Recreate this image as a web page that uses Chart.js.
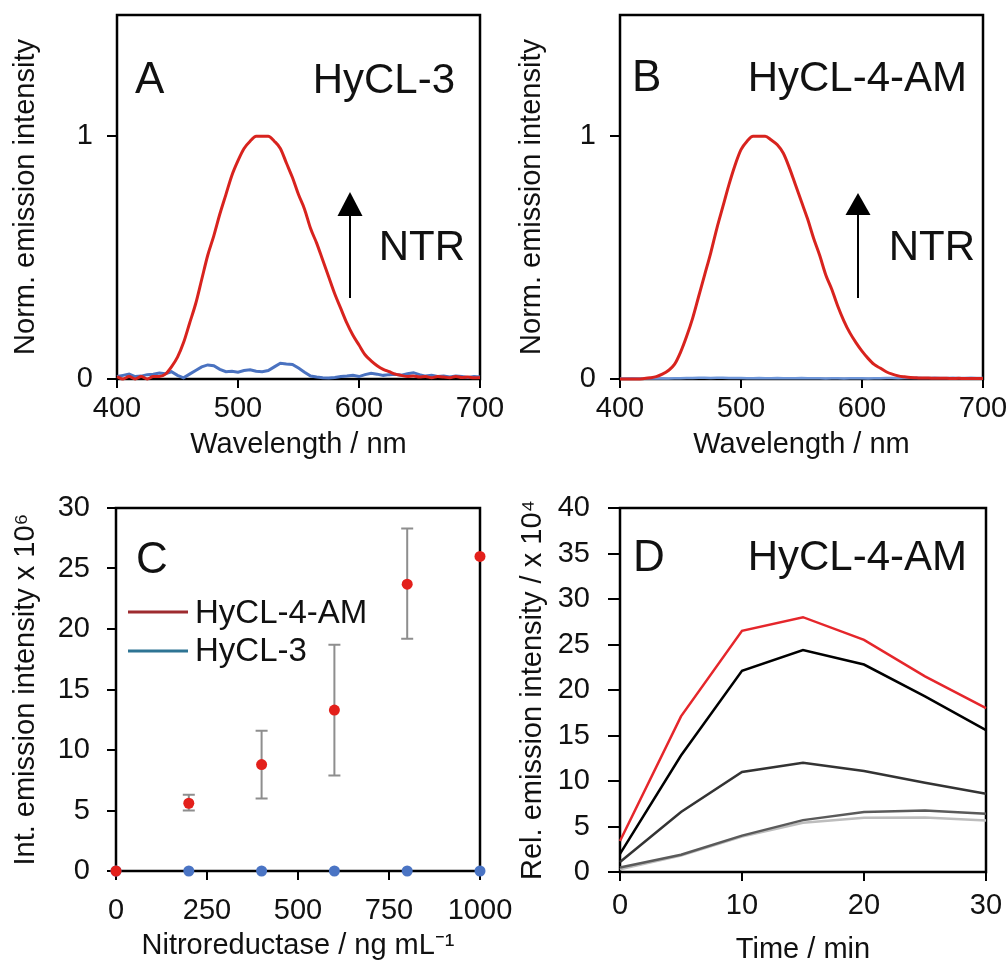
<!DOCTYPE html>
<html><head><meta charset="utf-8">
<script src="https://cdn.jsdelivr.net/npm/chart.js@4.4.1/dist/chart.umd.min.js"></script>
<style>
html,body{margin:0;padding:0;background:#fff;width:1008px;height:965px;overflow:hidden;}
canvas{position:absolute;}
</style></head><body>
<canvas id="cA" width="510" height="480" style="left:0px;top:0px"></canvas>
<canvas id="cB" width="508" height="480" style="left:500px;top:0px"></canvas>
<canvas id="cC" width="520" height="490" style="left:0px;top:480px"></canvas>
<canvas id="cD" width="508" height="490" style="left:500px;top:480px"></canvas>
<script>
// ---------- DATA ----------
const wavelengths = [400,405,410,415,420,425,430,435,440,445,450,455,460,465,470,475,480,485,490,495,
  500,505,510,515,520,525,530,535,540,545,550,555,560,565,570,575,580,585,590,595,
  600,605,610,615,620,625,630,635,640,645,650,655,660,665,670,675,680,685,690,695,700];
// Panel A: HyCL-3 (+NTR red, control blue)
const specA_NTR = [0.01,0.0,0.01,0.0,0.01,0.0,0.01,0.01,0.02,0.05,0.09,0.15,0.23,0.31,0.41,0.51,0.59,0.68,0.76,0.84,
  0.90,0.95,0.98,1.00,1.00,1.00,0.98,0.95,0.89,0.83,0.76,0.70,0.62,0.56,0.49,0.42,0.35,0.29,0.23,0.18,
  0.14,0.10,0.075,0.055,0.04,0.03,0.02,0.015,0.01,0.012,0.008,0.01,0.005,0.01,0.008,0.005,0.01,0.006,0.008,0.005,0.006];
const specA_ctrl = [0.01,0.015,0.02,0.01,0.012,0.018,0.02,0.025,0.022,0.03,0.015,0.005,0.02,0.035,0.05,0.058,0.055,0.04,0.03,0.032,
  0.028,0.035,0.038,0.032,0.03,0.035,0.05,0.065,0.062,0.06,0.045,0.028,0.012,0.008,0.005,0.004,0.006,0.01,0.012,0.015,
  0.01,0.018,0.024,0.02,0.015,0.018,0.02,0.016,0.022,0.026,0.018,0.012,0.015,0.01,0.012,0.008,0.012,0.01,0.006,0.01,0.008];
// Panel B: HyCL-4-AM
const specB_NTR = [0.0,0.0,0.0,0.0,0.002,0.005,0.01,0.02,0.035,0.06,0.11,0.175,0.25,0.34,0.43,0.52,0.62,0.71,0.80,0.88,
  0.945,0.98,1.00,1.00,1.00,0.985,0.965,0.93,0.87,0.80,0.73,0.66,0.58,0.51,0.43,0.37,0.30,0.24,0.19,0.15,
  0.115,0.085,0.06,0.045,0.03,0.02,0.013,0.009,0.006,0.005,0.004,0.004,0.003,0.003,0.003,0.002,0.003,0.002,0.002,0.002,0.002];
const specB_ctrl = [0.002,0.002,0.003,0.002,0.002,0.003,0.002,0.003,0.002,0.003,0.003,0.004,0.004,0.005,0.005,0.004,0.005,0.005,0.004,0.004,
  0.004,0.003,0.003,0.004,0.003,0.003,0.004,0.003,0.003,0.003,0.004,0.003,0.003,0.003,0.002,0.003,0.003,0.002,0.003,0.003,
  0.003,0.002,0.003,0.003,0.004,0.004,0.003,0.004,0.004,0.005,0.004,0.004,0.005,0.004,0.004,0.005,0.004,0.004,0.005,0.004,0.004];
const specXTicks = [400,500,600,700];
const specYTicks = [0,1];

// Panel C: integrated emission vs nitroreductase
const ntrConc = [0,200,400,600,800,1000];
const hycl4amInt = [0,5.6,8.8,13.3,23.7,26.0];
const hycl4amErrHigh = [null,6.3,11.6,18.7,28.3,null];
const hycl4amErrLow = [null,5.0,6.0,7.9,19.2,null];
const hycl3Int = [0,0,0,0,0,0];
const concTicks = [0,250,500,750,1000];
const intTicks = [0,5,10,15,20,25,30];

// Panel D: kinetics
const timeMin = [0,5,10,15,20,25,30];
const kinRed   = [3.4,17.1,26.5,28.0,25.5,21.5,18.0];
const kinBlack = [2.0,12.8,22.1,24.4,22.8,19.3,15.6];
const kinDark  = [1.1,6.6,11.0,12.0,11.1,9.8,8.6];
const kinGray  = [0.5,1.9,4.0,5.7,6.6,6.75,6.4];
const kinLight = [0.3,1.8,3.9,5.4,5.95,6.0,5.65];
const timeTicks = [0,10,20,30];
const relTicks = [0,5,10,15,20,25,30,35,40];

// ---------- STYLE HELPERS ----------
const FAM = "'Liberation Sans', Arial, Helvetica, sans-serif";
const FS = 29;
const TXT = '#111';

function pts(xs, ys){ return xs.map((x,i)=>({x:x, y:ys[i]})); }

function xAxis(o){
  return {
    type:'linear', position:'bottom', min:o.min, max:o.max,
    afterFit: s => { s.height = o.h; s.paddingLeft = 0; s.paddingRight = 0; s.paddingTop = 0; s.paddingBottom = 0; },
    afterBuildTicks: s => { s.ticks = o.ticks.map(v=>({value:v})); },
    grid:{display:true, drawOnChartArea:false, drawTicks:true, tickLength:o.tl, color:'#000', lineWidth:2},
    border:{display:false},
    ticks:{font:{family:FAM,size:FS}, color:TXT, padding:o.pad, maxRotation:0, autoSkip:false, callback:v=>String(v)},
    title:{display:true, text:o.title, font:{family:FAM,size:FS}, color:TXT, padding:{top:0,bottom:o.pb}}
  };
}
function yAxis(o){
  return {
    type:'linear', position:'left', min:o.min, max:o.max,
    afterFit: s => { s.width = o.w; s.paddingLeft = 0; s.paddingRight = 0; s.paddingTop = 0; s.paddingBottom = 0; },
    afterBuildTicks: s => { s.ticks = o.ticks.map(v=>({value:v})); },
    grid:{display:true, drawOnChartArea:false, drawTicks:true, tickLength:o.tl, color:'#000', lineWidth:2},
    border:{display:false},
    ticks:{font:{family:FAM,size:FS}, color:TXT, padding:o.pad, autoSkip:false, callback:v=>String(v)},
    title:{display:true, text:o.title, font:{family:FAM,size:FS}, color:TXT, padding:{top:o.pt,bottom:0}}
  };
}
const framePlugin = {
  id:'frame',
  beforeDatasetsDraw(chart){
    const a = chart.chartArea, ctx = chart.ctx;
    ctx.save(); ctx.strokeStyle='#000'; ctx.lineWidth=2.5;
    ctx.strokeRect(a.left, a.top, a.right-a.left, a.bottom-a.top);
    ctx.restore();
  }
};
function txt(ctx, s, x, y, size, align){
  ctx.font = size + 'px ' + FAM; ctx.fillStyle = TXT;
  ctx.textAlign = align || 'left'; ctx.textBaseline = 'alphabetic';
  ctx.fillText(s, x, y);
}
function arrow(ctx, x, tip, base, bottom){
  ctx.strokeStyle='#000'; ctx.fillStyle='#000'; ctx.lineWidth=2;
  ctx.beginPath(); ctx.moveTo(x, bottom); ctx.lineTo(x, base); ctx.stroke();
  ctx.beginPath(); ctx.moveTo(x, tip); ctx.lineTo(x-12.5, base); ctx.lineTo(x+12.5, base); ctx.closePath(); ctx.fill();
}
function annot(id, fn){
  return { id:id, afterDraw(chart){ const ctx=chart.ctx; ctx.save(); fn(ctx, chart); ctx.restore(); } };
}
const base = {
  responsive:false, maintainAspectRatio:false, animation:false,
  plugins:{legend:{display:false}, tooltip:{enabled:false}}
};
function lineDs(label, xs, ys, color, w, smooth){
  const d = {label:label, data:pts(xs,ys), borderColor:color, backgroundColor:color, borderWidth:w,
          pointRadius:0, tension:0, fill:false, clip:false};
  if (smooth) d.cubicInterpolationMode = 'monotone';
  return d;
}

// ---------- PANEL A ----------
new Chart(document.getElementById('cA'), {
  type:'line',
  data:{datasets:[
    lineDs('HyCL-3 + NTR', wavelengths, specA_NTR, '#D8231E', 3, true),
    lineDs('HyCL-3', wavelengths, specA_ctrl, '#4A72C0', 3, false)
  ]},
  options:Object.assign({}, base, {
    layout:{padding:{left:0, top:15, right:30, bottom:0}, autoPadding:false},
    scales:{
      x:xAxis({min:400,max:700,h:101,ticks:specXTicks,tl:9,pad:4,title:'Wavelength / nm',pb:18}),
      y:yAxis({min:0,max:1.5,w:117,ticks:specYTicks,tl:10,pad:14,title:'Norm. emission intensity',pt:9})
    }
  }),
  plugins:[framePlugin, annot('annA', ctx=>{
    txt(ctx,'A',135,93,44,'left');
    txt(ctx,'HyCL-3',455,93,42,'right');
    txt(ctx,'NTR',465,260,42,'right');
    arrow(ctx,350,192,216,298);
  })]
});

// ---------- PANEL B ----------
new Chart(document.getElementById('cB'), {
  type:'line',
  data:{datasets:[
    lineDs('HyCL-4-AM + NTR', wavelengths, specB_NTR, '#D8231E', 3, true),
    lineDs('HyCL-4-AM', wavelengths, specB_ctrl, '#6F97DA', 2.5, false)
  ]},
  options:Object.assign({}, base, {
    layout:{padding:{left:0, top:15, right:25, bottom:0}, autoPadding:false},
    scales:{
      x:xAxis({min:400,max:700,h:101,ticks:specXTicks,tl:9,pad:4,title:'Wavelength / nm',pb:18}),
      y:yAxis({min:0,max:1.5,w:120,ticks:specYTicks,tl:10,pad:14,title:'Norm. emission intensity',pt:14.5})
    }
  }),
  plugins:[framePlugin, annot('annB', ctx=>{
    txt(ctx,'B',132,91,44,'left');
    txt(ctx,'HyCL-4-AM',467,91,42,'right');
    txt(ctx,'NTR',475,260,42,'right');
    arrow(ctx,358,193,215,298);
  })]
});

// ---------- PANEL C ----------
const errPlugin = {
  id:'errbars',
  beforeDatasetsDraw(chart){
    const xs = chart.scales.x, ys = chart.scales.y, ctx = chart.ctx;
    ctx.save(); ctx.strokeStyle='#8E8E8E'; ctx.lineWidth=2;
    ntrConc.forEach((c,i)=>{
      if (hycl4amErrHigh[i]==null) return;
      const px = xs.getPixelForValue(c);
      const p1 = ys.getPixelForValue(hycl4amErrHigh[i]);
      const p2 = ys.getPixelForValue(hycl4amErrLow[i]);
      ctx.beginPath();
      ctx.moveTo(px,p1); ctx.lineTo(px,p2);
      ctx.moveTo(px-6,p1); ctx.lineTo(px+6,p1);
      ctx.moveTo(px-6,p2); ctx.lineTo(px+6,p2);
      ctx.stroke();
    });
    ctx.restore();
  }
};
new Chart(document.getElementById('cC'), {
  type:'scatter',
  data:{datasets:[
    {label:'HyCL-4-AM', data:pts(ntrConc,hycl4amInt), pointRadius:5.5, pointBackgroundColor:'#E3201B', pointBorderWidth:0, showLine:false, clip:false},
    {label:'HyCL-3', data:pts(ntrConc,hycl3Int), pointRadius:5.5, pointBackgroundColor:'#4A74C4', pointBorderWidth:0, showLine:false, clip:false}
  ]},
  options:Object.assign({}, base, {
    layout:{padding:{left:0, top:28, right:40, bottom:0}, autoPadding:false},
    scales:{
      x:xAxis({min:0,max:1000,h:99,ticks:concTicks,tl:9,pad:13.5,title:'Nitroreductase / ng mL\u207B\u00B9',pb:6.5}),
      y:yAxis({min:0,max:30,w:116,ticks:intTicks,tl:9,pad:17,title:'Int. emission intensity x 10\u2076',pt:9})
    }
  }),
  plugins:[framePlugin, errPlugin, annot('annC', ctx=>{
    txt(ctx,'C',136,93,44,'left');
    ctx.lineWidth=3;
    ctx.strokeStyle='#9E2B2F'; ctx.beginPath(); ctx.moveTo(128,132); ctx.lineTo(188,132); ctx.stroke();
    ctx.strokeStyle='#2E7494'; ctx.beginPath(); ctx.moveTo(128,171); ctx.lineTo(188,171); ctx.stroke();
    txt(ctx,'HyCL-4-AM',195,143,33,'left');
    txt(ctx,'HyCL-3',195,181,33,'left');
  })]
});

// ---------- PANEL D ----------
new Chart(document.getElementById('cD'), {
  type:'line',
  data:{datasets:[
    lineDs('1', timeMin, kinRed, '#E5262B', 2.5, false),
    lineDs('2', timeMin, kinBlack, '#000000', 2.5, false),
    lineDs('3', timeMin, kinDark, '#333333', 2.5, false),
    lineDs('4', timeMin, kinGray, '#5A5A5A', 2.5, false),
    lineDs('5', timeMin, kinLight, '#BDBDBD', 2.5, false)
  ]},
  options:Object.assign({}, base, {
    layout:{padding:{left:0, top:28, right:22, bottom:0}, autoPadding:false},
    scales:{
      x:xAxis({min:0,max:30,h:98,ticks:timeTicks,tl:9,pad:7.5,title:'Time / min',pb:3}),
      y:yAxis({min:0,max:40,w:120,ticks:relTicks,tl:12,pad:18,title:'Rel. emission intensity / x 10\u2074',pt:15.5})
    }
  }),
  plugins:[framePlugin, annot('annD', ctx=>{
    txt(ctx,'D',133,91,44,'left');
    txt(ctx,'HyCL-4-AM',467,90,42,'right');
  })]
});
</script>
</body></html>
